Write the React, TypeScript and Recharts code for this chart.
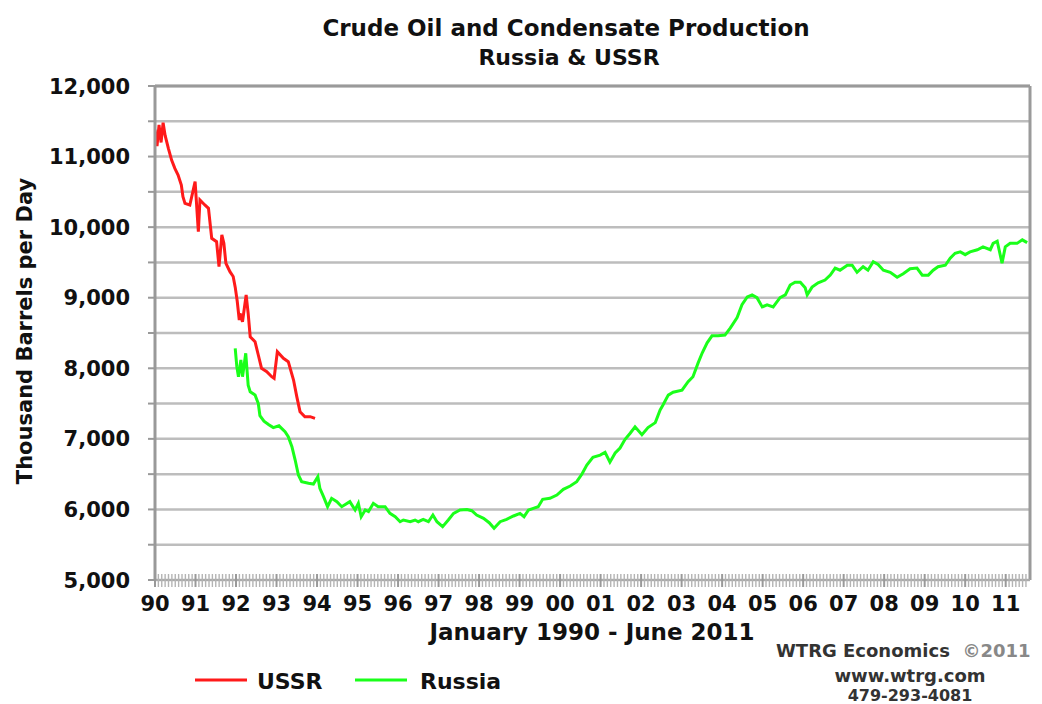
import React from 'react';
import { LineChart, Line, XAxis, YAxis, CartesianGrid, ReferenceLine, Legend } from 'recharts';

// USSR monthly production (thousand barrels per day), time in decimal years
const ussrTime = [
  1990.0, 1990.05, 1990.1, 1990.15, 1990.2, 1990.25, 1990.33, 1990.41, 1990.49, 1990.57,
  1990.65, 1990.69, 1990.74, 1990.86, 1990.99, 1991.07, 1991.11, 1991.23, 1991.32, 1991.4,
  1991.52, 1991.58, 1991.65, 1991.7, 1991.75, 1991.85, 1991.93, 1991.98, 1992.03, 1992.08,
  1992.1, 1992.16, 1992.25, 1992.3, 1992.35, 1992.47, 1992.55, 1992.63, 1992.76, 1992.88,
  1992.94, 1993.02, 1993.17, 1993.29, 1993.42, 1993.5, 1993.58, 1993.7, 1993.83, 1993.95,
];
const ussrValues = [
  11380, 11150, 11450, 11200, 11480, 11300, 11117, 10951, 10833, 10739,
  10597, 10431, 10337, 10314, 10644, 9935, 10385, 10314, 10267, 9842,
  9794, 9440, 9889, 9771, 9488, 9369, 9300, 9150, 8950, 8684,
  8779, 8660, 9038, 8779, 8447, 8377, 8188, 8000, 7952, 7881,
  7858, 8235, 8141, 8094, 7834, 7598, 7385, 7314, 7314, 7291,
];

// Russia monthly production (thousand barrels per day), time in decimal years
const russiaTime = [
  1991.98, 1992.02, 1992.06, 1992.12, 1992.16, 1992.24, 1992.3, 1992.35, 1992.47, 1992.55,
  1992.59, 1992.69, 1992.81, 1992.92, 1993.06, 1993.21, 1993.29, 1993.38, 1993.46, 1993.54,
  1993.62, 1993.79, 1993.91, 1994.02, 1994.07, 1994.16, 1994.26, 1994.36, 1994.49, 1994.61,
  1994.81, 1994.94, 1995.02, 1995.09, 1995.19, 1995.27, 1995.39, 1995.51, 1995.68, 1995.8,
  1995.93, 1996.05, 1996.13, 1996.3, 1996.42, 1996.5, 1996.62, 1996.75, 1996.86, 1996.96,
  1997.1, 1997.24, 1997.37, 1997.53, 1997.7, 1997.82, 1997.94, 1998.11, 1998.25, 1998.37,
  1998.52, 1998.68, 1998.85, 1999.01, 1999.11, 1999.22, 1999.34, 1999.46, 1999.57, 1999.75,
  1999.92, 2000.08, 2000.25, 2000.41, 2000.54, 2000.66, 2000.81, 2000.99, 2001.11, 2001.23,
  2001.36, 2001.48, 2001.6, 2001.73, 2001.85, 2002.02, 2002.17, 2002.35, 2002.47, 2002.54,
  2002.67, 2002.79, 2003.01, 2003.16, 2003.28, 2003.41, 2003.51, 2003.63, 2003.75, 2003.9,
  2004.07, 2004.2, 2004.37, 2004.49, 2004.62, 2004.74, 2004.86, 2004.99, 2005.11, 2005.26,
  2005.43, 2005.56, 2005.68, 2005.8, 2005.93, 2006.05, 2006.1, 2006.22, 2006.37, 2006.54,
  2006.67, 2006.79, 2006.91, 2007.09, 2007.21, 2007.33, 2007.48, 2007.6, 2007.73, 2007.85,
  2007.98, 2008.15, 2008.32, 2008.47, 2008.64, 2008.81, 2008.94, 2009.09, 2009.21, 2009.33,
  2009.51, 2009.63, 2009.75, 2009.88, 2010.0, 2010.12, 2010.3, 2010.44, 2010.62, 2010.69,
  2010.79, 2010.91, 2010.99, 2011.11, 2011.28, 2011.41, 2011.53,
];
const russiaValues = [
  8283, 8023, 7881, 8118, 7881, 8212, 7760, 7668, 7621, 7500,
  7330, 7250, 7200, 7160, 7185, 7102, 7031, 6889, 6700, 6488,
  6393, 6370, 6360, 6464, 6299, 6181, 6039, 6157, 6110, 6039,
  6110, 5992, 6086, 5897, 5992, 5969, 6086, 6039, 6039, 5944,
  5897, 5826, 5850, 5826, 5850, 5826, 5860, 5826, 5921, 5826,
  5755, 5850, 5944, 5992, 6000, 5982, 5921, 5874, 5812, 5732,
  5826, 5860, 5907, 5944, 5897, 5992, 6016, 6039, 6143, 6157,
  6204, 6285, 6332, 6393, 6502, 6630, 6740, 6770, 6810, 6670,
  6800, 6870, 6990, 7080, 7170, 7060, 7160, 7230, 7410, 7480,
  7620, 7660, 7690, 7810, 7880, 8080, 8220, 8360, 8460, 8460,
  8470, 8570, 8720, 8900, 9010, 9040, 9000, 8870, 8900, 8870,
  9000, 9040, 9180, 9220, 9220, 9140, 9040, 9150, 9210, 9250,
  9320, 9420, 9390, 9460, 9460, 9360, 9440, 9390, 9510, 9470,
  9390, 9360, 9290, 9340, 9410, 9420, 9320, 9320, 9390, 9440,
  9460, 9560, 9630, 9650, 9610, 9650, 9680, 9720, 9680, 9770,
  9800, 9490, 9720, 9770, 9770, 9820, 9780,
];

const years = [
  1990, 1991, 1992, 1993, 1994, 1995, 1996, 1997, 1998, 1999, 2000,
  2001, 2002, 2003, 2004, 2005, 2006, 2007, 2008, 2009, 2010, 2011,
];
const yearLabels = [
  '90', '91', '92', '93', '94', '95', '96', '97', '98', '99', '00',
  '01', '02', '03', '04', '05', '06', '07', '08', '09', '10', '11',
];
const yTicks = [5000, 5500, 6000, 6500, 7000, 7500, 8000, 8500, 9000, 9500, 10000, 10500, 11000, 11500, 12000];
const legendOrder = ['USSR', 'Russia'];

const X_MIN = 1990;
const X_MAX = 2011.6;

const ussrData = ussrTime.map((t, i) => ({ t, v: ussrValues[i] }));
const russiaData = russiaTime.map((t, i) => ({ t, v: russiaValues[i] }));

// monthly minor tick positions along the axis band
const monthTicks: number[] = [];
years.forEach((y) => {
  for (let m = 0; m < 12; m++) {
    const t = y + m / 12;
    if (t <= X_MAX - 0.05) monthTicks.push(Math.round(t * 10000) / 10000);
  }
});

const FONT = '"DejaVu Sans", Arial, sans-serif';

const fmt = (n: number) => {
  const s = String(Math.round(n));
  return s.replace(/\B(?=(\d{3})+(?!\d))/g, ',');
};

const YTick = (props: any) => {
  const { x, y, payload } = props;
  if (payload.value % 1000 !== 0) return <g />;
  return (
    <text x={x} y={y} dy="0.36em" textAnchor="end" fontFamily={FONT} fontSize={21} fontWeight="bold" fill="#111">
      {fmt(payload.value)}
    </text>
  );
};

const XTick = (props: any) => {
  const { x, y, payload } = props;
  const v = payload.value as number;
  const yr = Math.round(v);
  const isYear = Math.abs(v - yr) < 1e-4;
  const idx = years.indexOf(yr);
  return (
    <g>
      <line x1={x} x2={x} y1={y - 6} y2={y + 7} stroke={isYear ? '#999' : '#b4b4b4'} strokeWidth={isYear ? 2 : 1.4} />
      {isYear && idx >= 0 && (
        <text x={x} y={y + 31} textAnchor="middle" fontFamily={FONT} fontSize={21} fontWeight="bold" fill="#111">
          {yearLabels[idx]}
        </text>
      )}
    </g>
  );
};

const renderLegend = (props: any) => {
  const raw = props.payload || [];
  const items = legendOrder
    .map((name) => raw.find((it: any) => it.value === name))
    .filter(Boolean);
  const pos = [
    { lx: 195, tx: 257 },
    { lx: 355, tx: 420 },
  ];
  return (
    <svg width={600} height={50} style={{ display: 'block' }}>
      {items.map((it: any, i: number) => (
        <g key={i}>
          <line x1={pos[i].lx} x2={pos[i].lx + 52} y1={25} y2={25} stroke={it.color} strokeWidth={3} />
          <text x={pos[i].tx} y={34} fontFamily={FONT} fontSize={22} fontWeight="bold" fill="#111">
            {it.value}
          </text>
        </g>
      ))}
    </svg>
  );
};

export default function App() {
  return (
    <div style={{ position: 'absolute', left: 0, top: 0, width: 1042, height: 704, background: '#fff', overflow: 'hidden' }}>
      <LineChart width={1042} height={704} margin={{ top: 86, right: 12, bottom: 0, left: 0 }}>
        <CartesianGrid vertical={false} stroke="#bdbdbd" strokeWidth={2.5} />
        <XAxis
          dataKey="t"
          type="number"
          domain={[X_MIN, X_MAX]}
          allowDataOverflow
          ticks={monthTicks}
          interval={0}
          height={124}
          tickSize={0}
          tickMargin={0}
          tickLine={false}
          axisLine={{ stroke: '#aaa', strokeWidth: 2 }}
          tick={<XTick />}
        />
        <YAxis
          type="number"
          domain={[5000, 12000]}
          ticks={yTicks}
          interval={0}
          width={155}
          tickSize={7}
          tickMargin={18}
          tickLine={{ stroke: '#999', strokeWidth: 2 }}
          axisLine={{ stroke: '#999', strokeWidth: 3 }}
          tick={<YTick />}
        />
        <ReferenceLine y={12000} stroke="#9a9a9a" strokeWidth={3} />
        <ReferenceLine x={X_MAX} stroke="#9a9a9a" strokeWidth={3} />
        <Legend
          layout="horizontal"
          verticalAlign="middle"
          align="center"
          content={renderLegend}
          wrapperStyle={{ position: 'absolute', left: 0, top: 655, width: 600, height: 50 }}
        />
        <Line
          data={ussrData}
          dataKey="v"
          name="USSR"
          type="linear"
          stroke="#ff1a1a"
          strokeWidth={3}
          dot={false}
          isAnimationActive={false}
        />
        <Line
          data={russiaData}
          dataKey="v"
          name="Russia"
          type="linear"
          stroke="#1aff1a"
          strokeWidth={3}
          dot={false}
          isAnimationActive={false}
        />
      </LineChart>
      <svg
        width={1042}
        height={704}
        style={{ position: 'absolute', left: 0, top: 0, pointerEvents: 'none' }}
      >
        <text x={566} y={36} textAnchor="middle" fontFamily={FONT} fontSize={23} fontWeight="bold" fill="#111">
          Crude Oil and Condensate Production
        </text>
        <text x={569} y={65} textAnchor="middle" fontFamily={FONT} fontSize={22} fontWeight="bold" fill="#111">
          Russia &amp; USSR
        </text>
        <text
          transform="translate(32,331) rotate(-90)"
          textAnchor="middle"
          fontFamily={FONT}
          fontSize={21}
          fontWeight="bold"
          fill="#111"
        >
          Thousand Barrels per Day
        </text>
        <text x={592} y={640} textAnchor="middle" fontFamily={FONT} fontSize={23} fontWeight="bold" fill="#111">
          January 1990 - June 2011
        </text>
        <text x={776} y={657} fontFamily={FONT} fontSize={18} fontWeight="bold" fill="#333">
          WTRG Economics{'\u00a0\u00a0'}<tspan fill="#888">©2011</tspan>
        </text>
        <text x={910} y={682} textAnchor="middle" fontFamily={FONT} fontSize={18} fontWeight="bold" fill="#333">
          www.wtrg.com
        </text>
        <text x={910} y={701} textAnchor="middle" fontFamily={FONT} fontSize={16} fontWeight="bold" fill="#333">
          479-293-4081
        </text>
      </svg>
    </div>
  );
}
